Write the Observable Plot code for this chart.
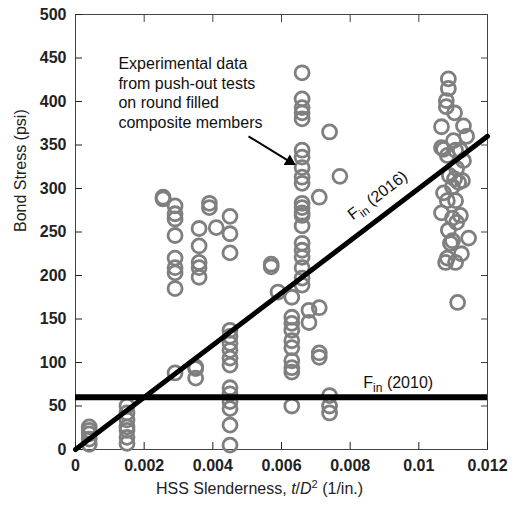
<!DOCTYPE html>
<html><head><meta charset="utf-8">
<script src="https://cdn.jsdelivr.net/npm/d3@7"></script>
<script src="https://cdn.jsdelivr.net/npm/@observablehq/plot@0.6"></script>
<style>
body{margin:0;background:#fff}
svg{font-family:Arial,"Liberation Sans",sans-serif}
</style>
</head><body><div id="chart"></div><script>
// Push-out test data: HSS slenderness t/D^2 (1/in.) and bond stress (psi)
const slenderness = [
  0.0004,0.0004,0.0004,0.0004,0.0004,
  0.0015,0.0015,0.0015,0.0015,0.0015,0.0015,0.0015,
  0.00255,0.00255,
  0.0029,0.0029,0.0029,0.0029,0.0029,0.0029,0.0029,0.0029,0.0029,
  0.0035,0.0035,0.0035,
  0.0036,0.0036,0.0036,0.0036,0.0036,
  0.0039,0.0039,0.0041,
  0.0045,0.0045,0.0045,0.0045,0.0045,0.0045,0.0045,0.0045,0.0045,0.0045,0.0045,0.0045,0.0045,0.0045,0.0045,
  0.0057,0.0057,0.0059,
  0.0063,0.0063,0.0063,0.0063,0.0063,0.0063,0.0063,0.0063,0.0063,0.0063,
  0.0066,0.0066,0.0066,0.0066,0.0066,0.0066,0.0066,0.0066,0.0066,0.0066,0.0066,
  0.0066,0.0066,0.0066,0.0066,0.0066,0.0066,0.0066,0.0066,0.0066,0.0066,
  0.0068,0.0068,
  0.0071,0.0071,0.0071,0.0071,
  0.0074,0.0074,0.0074,0.0074,
  0.0077,
  0.01086,0.01086,0.0108,0.0108,0.01066,0.0113,0.01104,0.01139,0.01066,0.01072,
  0.01083,0.01101,0.01107,0.01121,0.0113,0.0111,0.01089,0.01104,0.01116,0.01127,
  0.01098,0.01072,0.01083,0.01107,0.01066,0.01098,0.01121,0.01086,0.01098,0.01145,
  0.01083,0.01078,0.01107,0.01124,0.01092,0.0111,0.01113
];
const bondStress = [
  6,12,18,22,26,
  7,14,22,26,34,42,50,
  290,288,
  280,271,265,246,220,209,203,185,88,
  93,95,82,
  254,234,215,209,198,
  283,278,255,
  268,248,226,137,130,122,114,105,97,71,64,55,47,28,5,
  213,210,181,
  175,152,145,137,125,117,102,94,89,50,
  433,403,393,387,380,344,336,324,313,306,283,
  278,272,269,257,237,229,221,209,197,189,
  160,146,
  290,163,111,106,
  365,62,50,42,
  314,
  426,415,401,394,371,372,387,360,347,345,
  338,355,344,344,332,323,315,311,307,309,
  302,295,286,286,272,266,269,252,240,243,
  220,215,215,225,237,261,169
];
// Design equations
const fin2016X = [0, 0.012];
const fin2016Y = [0, 360];
const fin2010Y = [60];
// Ticks
const xTicks = [0, 0.002, 0.004, 0.006, 0.008, 0.01, 0.012];
const yTicks = [0, 50, 100, 150, 200, 250, 300, 350, 400, 450, 500];
// Annotations
const noteText = ["Experimental data\nfrom push-out tests\non round filled\ncomposite members"];
const noteX = [0.00125], noteY = [453];
const arrowX = [0.00504, 0.00624], arrowY = [360, 331];
const label2016 = ["F_in (2016)"], label2016X = [0.0088], label2016Y = [292];
const label2010 = ["F_in (2010)"], label2010X = [0.0094], label2010Y = [77];

const points = slenderness.map((x, i) => ({x, y: bondStress[i]}));
const line2016 = fin2016X.map((x, i) => ({x, y: fin2016Y[i]}));
const fmt = d => String(+d.toFixed(3));
const arrowLink = [{x1: arrowX[0], y1: arrowY[0], x2: arrowX[1], y2: arrowY[1]}];

const chart = Plot.plot({
  width: 522, height: 505,
  marginTop: 14, marginRight: 35, marginBottom: 56, marginLeft: 75,
  x: {domain: [0, 0.012]},
  y: {domain: [0, 500]},
  marks: [
    Plot.frame({stroke: "#444", strokeWidth: 1}),
    Plot.axisX({ticks: xTicks, anchor: "bottom", tickSize: -7, tickPadding: 17, tickFormat: fmt, label: null,
      fontSize: 16, fontWeight: "bold", color: "#222"}),
    Plot.axisX({ticks: xTicks, anchor: "top", tickSize: -7, tickFormat: () => "", label: null, color: "#444"}),
    Plot.axisY({ticks: yTicks, anchor: "left", tickSize: -7, tickPadding: 16, label: null,
      fontSize: 16, fontWeight: "bold", color: "#222"}),
    Plot.axisY({ticks: yTicks, anchor: "right", tickSize: -7, tickFormat: () => "", label: null, color: "#444"}),
    Plot.dot(points, {x: "x", y: "y", r: 7, stroke: "#7f7f7f", strokeWidth: 2.8, fill: "none"}),
    Plot.ruleY(fin2010Y, {stroke: "#000", strokeWidth: 6}),
    Plot.line(line2016, {x: "x", y: "y", stroke: "#000", strokeWidth: 5}),
    Plot.text(noteText, {x: () => noteX[0], y: () => noteY[0], text: d => d, textAnchor: "start", lineAnchor: "top",
      lineHeight: 1.22, fontSize: 16, fill: "#111"}),
    Plot.link(arrowLink, {x1: "x1", y1: "y1", x2: "x2", y2: "y2", stroke: "#000", strokeWidth: 2}),
    Plot.dot([0], {x: () => arrowX[1], y: () => arrowY[1], symbol: "triangle", r: 4.5, fill: "#000", stroke: "none", rotate: 120.8}),
    Plot.text(label2016, {x: () => label2016X[0], y: () => label2016Y[0], text: d => d, rotate: -37, fontSize: 16, fill: "#111"}),
    Plot.text(label2010, {x: () => label2010X[0], y: () => label2010Y[0], text: d => d, fontSize: 16, fill: "#111"}),
    Plot.text(["XTITLE"], {frameAnchor: "bottom", dy: 44, dx: -22, text: d => d, fontSize: 16, fill: "#222"}),
    Plot.text(["Bond Stress (psi)"], {frameAnchor: "left", dx: -55, rotate: -90, text: d => d, fontSize: 16, fill: "#222"})
  ]
});

const NS = "http://www.w3.org/2000/svg";
function ts(parent, txt, attrs) {
  const e = document.createElementNS(NS, "tspan");
  e.textContent = txt;
  for (const k in attrs) e.setAttribute(k, attrs[k]);
  parent.appendChild(e);
}
chart.querySelectorAll("text").forEach(t => {
  const s = t.textContent;
  if (s.startsWith("F_in")) {
    const rest = s.slice(4);
    t.textContent = "";
    ts(t, "F", {});
    ts(t, "in", {dy: "4", "font-size": "12"});
    ts(t, rest, {dy: "-4"});
  } else if (s === "XTITLE") {
    t.textContent = "";
    ts(t, "HSS Slenderness, ", {});
    ts(t, "t", {"font-style": "italic"});
    ts(t, "/", {});
    ts(t, "D", {"font-style": "italic"});
    ts(t, "2", {dy: "-6", "font-size": "11"});
    ts(t, " (1/in.)", {dy: "6"});
  }
});
document.getElementById("chart").appendChild(chart);
</script></body></html>
